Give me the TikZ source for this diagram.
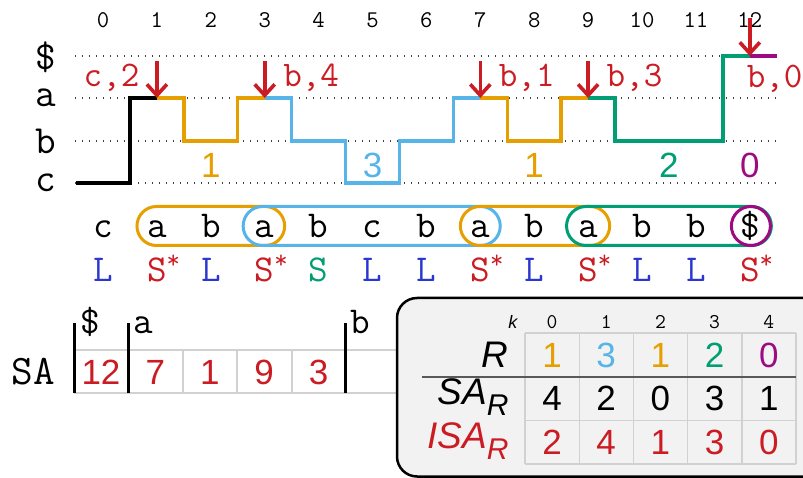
\documentclass[tikz,border=0pt]{standalone}
\usepackage{fontspec}
\setsansfont{Liberation Sans}
\usetikzlibrary{arrows.meta}

\definecolor{ora}{HTML}{E69F00}
\definecolor{blu}{HTML}{56B4E9}
\definecolor{grn}{HTML}{009E73}
\definecolor{pur}{HTML}{9E0A82}
\definecolor{cred}{HTML}{CB1B23}
\definecolor{lblu}{HTML}{2A36CF}
\definecolor{boxbg}{HTML}{F2F2F2}

\newcommand{\tsz}[1]{\fontsize{#1}{#1}\selectfont}
\newcommand{\sst}{S\rlap{\raisebox{0.36em}{\tsz{26}*}}}

\begin{document}
\begin{tikzpicture}[x=1pt,y=-1pt,
    stp/.style={line width=3.4pt},
    guide/.style={line width=1.5pt, dash pattern=on 1.5pt off 5.5pt, black!75},
    lvl/.style={font=\ttfamily\tsz{40}},
    idx/.style={font=\ttfamily\tsz{24}},
    chr/.style={font=\ttfamily\tsz{38}, anchor=base},
    typ/.style={font=\ttfamily\tsz{38}, anchor=base},
    redarr/.style={draw=cred, line width=3.6pt, -{Straight Barb[length=11pt,width=20pt]}},
    lab/.style={font=\ttfamily\tsz{36}, text=cred, anchor=base west},
    cnt/.style={font=\sffamily\tsz{35}},
    pill/.style={line width=3pt, rounded corners=19.5pt},
    cellline/.style={line width=1.4pt, black!18},
    bar/.style={line width=3pt},
    num/.style={font=\sffamily\tsz{35}},
    rowlab/.style={font=\sffamily\itshape\tsz{37}, anchor=east}]
  \useasboundingbox (0,0) rectangle (803,478);
  \clip (0,0) rectangle (803,478);

  % level names
  \node[lvl] (lvd) at (46,57) {\$};
  \node[lvl] (lva) at (46,98) {a};
  \node[lvl] (lvb) at (46,141) {b};
  \node[lvl] (lvc) at (46,183) {c};

  \begin{scope}[xshift=103pt, x=53.9pt]
    % positions
    \foreach \i in {0,...,12}
      \node[idx] (n\i) at (\i,20) {\i};
    \foreach \y in {56,98,141,183}
      \draw[guide] (-0.52,\y) -- (12.52,\y);

    % the text as a walk over the levels
    \draw[stp] (-0.5,183) -| (0.5,98) -- (1,98);
    \draw[stp,ora] (1,98) -| (1.5,141) -| (2.5,98) -- (3,98);
    \draw[stp,blu] (3,98) -| (3.5,141) -| (4.5,183) -| (5.5,141) -| (6.5,98) -- (7,98);
    \draw[stp,ora] (7,98) -| (7.5,141) -| (8.5,98) -- (9,98);
    \draw[stp,grn] (9,98) -| (9.5,141) -| (11.5,56) -- (12,56);
    \draw[stp,pur] (12,56) -- (12.5,56);

    \node[cnt,text=ora] (r1) at (2,165) {1};
    \node[cnt,text=blu] (r3) at (5,165) {3};
    \node[cnt,text=ora] (r1b) at (8,165) {1};
    \node[cnt,text=grn] (r2) at (10.5,165) {2};
    \node[cnt,text=pur] (r0) at (12,165) {0};

    % LMS positions
    \foreach \i in {1,3,7,9} {
      \coordinate (s\i) at (\i,61);
      \coordinate (e\i) at (\i,98);
      \draw[redarr] (s\i) -- (e\i);
    }
    \coordinate (s12) at (12,18);
    \coordinate (e12) at (12,56);
    \draw[redarr] (s12) -- (e12);

    \node[lab,anchor=base east] (l1) at (0.74,87) {c,2};
    \node[lab] (l3) at (3.28,87) {b,4};
    \node[lab] (l7) at (7.28,87) {b,1};
    \node[lab] (l9) at (9.28,87) {b,3};
    \node[lab] (l12) at (11.88,88) {b,0};

    % LMS substrings
    \draw[pill,ora] (0.63,206.5) rectangle (3.37,245.5);
    \draw[pill,blu] (2.6,206.5) rectangle (7.37,245.5);
    \draw[pill,ora] (6.63,206.5) rectangle (9.4,245.5);
    \draw[pill,grn] (8.6,206.5) rectangle (12.4,245.5);
    \draw[line width=3pt,pur] (12.02,226) circle (19.5pt);

    \foreach \c [count=\i from 0] in {c,a,b,a,b,c,b,a,b,a,b,b,\$}
      \node[chr] (t\i) at (\i,238) {\c};

    \node[typ,text=lblu] (y0) at (0,282) {L};
    \node[typ,text=cred] (y1) at (1,282) {\sst};
    \node[typ,text=lblu] (y2) at (2,282) {L};
    \node[typ,text=cred] (y3) at (3,282) {\sst};
    \node[typ,text=grn] (y4) at (4,282) {S};
    \node[typ,text=lblu] (y5) at (5,282) {L};
    \node[typ,text=lblu] (y6) at (6,282) {L};
    \node[typ,text=cred] (y7) at (7,282) {\sst};
    \node[typ,text=lblu] (y8) at (8,282) {L};
    \node[typ,text=cred] (y9) at (9,282) {\sst};
    \node[typ,text=lblu] (y10) at (10,282) {L};
    \node[typ,text=lblu] (y11) at (11,282) {L};
    \node[typ,text=cred] (y12) at (12,282) {\sst};
  \end{scope}

  % suffix array with buckets
  \node[font=\ttfamily\tsz{42}] (sa) at (33,372) {SA};
  \draw[cellline] (74,350) -- (800,350);
  \draw[cellline] (74,393) -- (800,393);
  \foreach \x in {183,237,292}
    \draw[cellline] (\x,350) -- (\x,393);
  \foreach \v [count=\k from 0] in {12,7,1,9,3}
    \node[num,text=cred] (sa\k) at ({101+54.4*\k},372) {\v};
  \foreach \x in {74,128,345}
    \draw[bar] (\x,323) -- (\x,393);
  \node[font=\ttfamily\tsz{38}, anchor=base west] (bkd) at (77,333) {\$};
  \node[font=\ttfamily\tsz{38}, anchor=base west] (bka) at (130,334) {a};
  \node[font=\ttfamily\tsz{38}, anchor=base west] (bkb) at (347,334) {b};

  % reduced string
  \draw[line width=2.5pt, fill=boxbg, rounded corners=20pt]
    (830,298) -- (397,298) -- (397,476.5) -- (830,476.5);
  \foreach \k in {0,...,5}
    \draw[cellline] ({525+54.2*\k},333) -- ({525+54.2*\k},464);
  \foreach \y in {333,377,420.5,464}
    \draw[cellline] (525,\y) -- (796,\y);
  \draw[line width=2pt, black!65] (422,377) -- (796,377);

  \node[font=\sffamily\itshape\tsz{18}, anchor=east] (kk) at (521,322) {k};
  \foreach \k in {0,...,4}
    \node[font=\ttfamily\tsz{21}] (k\k) at ({552+54.2*\k},322) {\k};

  \node[rowlab] (rR) at (512,355) {R};
  \node[rowlab] (rSA) at (512,397) {SA\raisebox{-0.3em}{\tsz{30}R}};
  \node[rowlab,text=cred] (rISA) at (512,441) {ISA\raisebox{-0.3em}{\tsz{30}R}};

  \foreach \v/\c [count=\k from 0] in {1/ora,3/blu,1/ora,2/grn,0/pur}
    \node[num,text=\c] (R\k) at ({552+54.2*\k},355) {\v};
  \foreach \v [count=\k from 0] in {4,2,0,3,1}
    \node[num] (S\k) at ({552+54.2*\k},398.5) {\v};
  \foreach \v [count=\k from 0] in {2,4,1,3,0}
    \node[num,text=cred] (I\k) at ({552+54.2*\k},442) {\v};
\end{tikzpicture}
\end{document}
